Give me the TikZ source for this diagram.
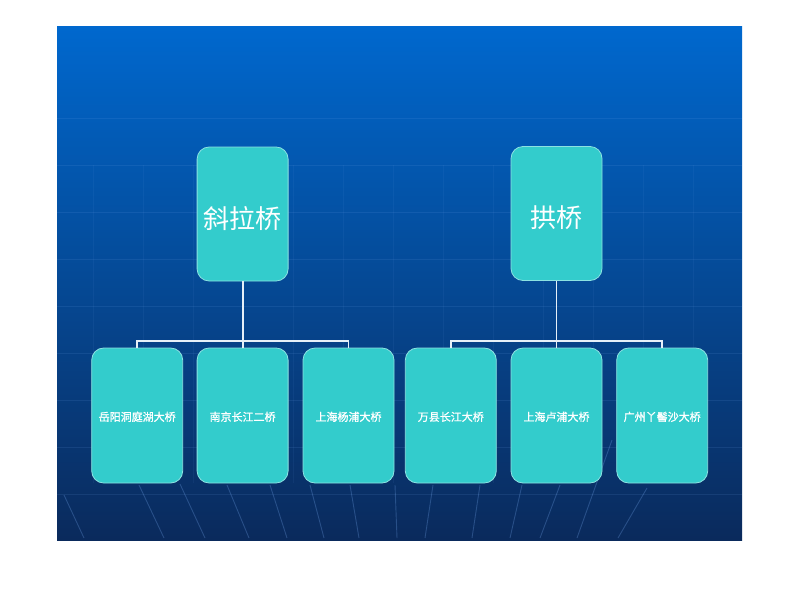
\documentclass[tikz,border=0pt]{standalone}
\usepackage{fontspec}
\newfontfamily\cjk{Noto Sans CJK SC}
\newfontfamily\cjkb{Noto Sans CJK SC}[FakeBold=1.2]
\definecolor{teal1}{RGB}{51,204,204}
\definecolor{boxedge}{RGB}{140,226,226}
\definecolor{linkc}{RGB}{230,240,248}
\definecolor{bgtop}{RGB}{0,104,206}
\definecolor{bgmid}{RGB}{6,80,170}
\definecolor{bgbot}{RGB}{10,42,92}
\definecolor{gridc}{RGB}{120,170,240}
\newcommand{\lowtop}[1]{\raisebox{-14pt}[0pt][0pt]{#1}}
\newcommand{\lowsub}[1]{\raisebox{-5.5pt}[0pt][0pt]{#1}}
\begin{document}
\begin{tikzpicture}[x=1pt,y=-1pt]
\tikzset{
  topbox/.style={draw=boxedge, fill=teal1, rounded corners=12pt, line width=0.8pt,
    minimum width=91pt, minimum height=134pt, inner sep=0pt, text=white,
    font=\cjk\fontsize{26}{26}\selectfont},
  subbox/.style={draw=boxedge, fill=teal1, rounded corners=12pt, line width=0.8pt,
    minimum width=91pt, minimum height=135pt, inner sep=0pt, text=white,
    font=\cjkb\fontsize{11}{11}\selectfont},
  link/.style={draw=linkc, line width=1.8pt},
  gridline/.style={draw=gridc, line width=1pt, opacity=0.12},
  persp/.style={draw=gridc, line width=0.9pt, opacity=0.28}
}
% page
\useasboundingbox (0,0) rectangle (800,600);
\fill[white] (0,0) rectangle (800,600);
% background panel
\shade[top color=bgtop, middle color=bgmid, bottom color=bgbot] (57,26) rectangle (742,540);
\begin{scope}
\clip (57,26) rectangle (742,540);
\foreach \y in {118,165,212,259,306,353,400,447,494}
  \draw[gridline] (57,\y) -- (742,\y);
\foreach \x in {93,143,193,243,293,343,393,443,493,543,593,643,693}
  \draw[gridline, opacity=0.07] (\x,165) -- (\x,483);
\draw[persp] (139,485) -- (164,538);
\draw[persp] (180,484) -- (205,538);
\draw[persp] (227,485) -- (249,538);
\draw[persp] (270,485) -- (287,538);
\draw[persp] (310,485) -- (324,538);
\draw[persp] (350,485) -- (359,538);
\draw[persp] (395,485) -- (397,538);
\draw[persp] (433,485) -- (425,538);
\draw[persp] (480,485) -- (472,538);
\draw[persp] (522,485) -- (510,538);
\draw[persp] (560,485) -- (540,538);
\draw[persp] (612,440) -- (577,538);
\draw[persp] (647,488) -- (618,538);
\draw[persp] (64,495) -- (84,538);
\end{scope}
% top level
\node[topbox] (t1) at (242.6,214) {\lowtop{斜拉桥}};
\node[topbox] (t2) at (556.5,213.5) {\lowtop{拱桥}};
% second level
\node[subbox] (b1) at (137.2,415.5) {\lowsub{岳阳洞庭湖大桥}};
\node[subbox] (b2) at (242.6,415.5) {\lowsub{南京长江二桥}};
\node[subbox] (b3) at (348.5,415.5) {\lowsub{上海杨浦大桥}};
\node[subbox] (b4) at (450.8,415.5) {\lowsub{万县长江大桥}};
\node[subbox] (b5) at (556.5,415.5) {\lowsub{上海卢浦大桥}};
\node[subbox] (b6) at (662.2,415.5) {\lowsub{广州丫髻沙大桥}};
% connectors
\coordinate (j1) at (242.6,341);
\coordinate (j2) at (556.5,341);
\draw[link] (t1.south) -- (b2.north);
\draw[link] (b1.north) |- (j1) -| (b3.north);
\draw[link] (t2.south) -- (b5.north);
\draw[link] (b4.north) |- (j2) -| (b6.north);
\end{tikzpicture}
\end{document}
